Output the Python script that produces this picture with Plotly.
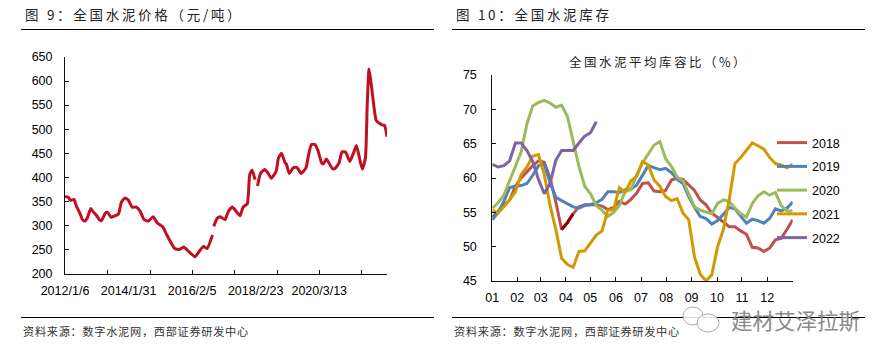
import plotly.graph_objects as go

W, H = 889, 358

# ---- Figure 9: national cement price (weekly index, yuan/ton); None marks a gap in the line
price_weeks = [0,6,9,15,19,25,29,33,37,43,47,53,57,61,67,71,77,83,89,94,100,106,112,119,125,132,139,147,154,163,169,175,183,191,198,206,217,225,231,237,246,247,248,254,259,267,272,279,285,292,297,304,308,312,317,319,321,326,333,339,344,352,356,361,367,369,374,381,387,394,402,406,411,417,422,428,431,436,446,450,457,462,468,475,481,486,492,496,501,504,507,510,517,519,525,531,533,537]
price_values = [360,358,352,354,340,325,312,309,315,335,328,320,312,310,325,327,317,320,323,348,357,352,338,338,330,312,309,318,305,297,282,268,252,250,255,246,235,248,256,252,280,None,298,315,318,312,328,338,330,320,338,345,405,415,395,None,382,408,416,408,398,412,440,450,430,428,408,420,420,408,420,445,468,468,455,430,428,438,418,418,430,453,452,433,450,466,435,417,440,550,625,600,530,518,512,508,508,484]
price_label_weeks = [0,106,212,318,424]
price_labels = ["2012/1/6","2014/1/31","2016/2/5","2018/2/23","2020/3/13"]
price_mark_weeks = [0,71,142,212,283,354,424,495]
price_y_ticks = [200,250,300,350,400,450,500,550,600,650]

# ---- Figure 10: cement inventory ratio (%), weekly through the year
inv_2018 = [54.3,55.2,56,56.8,58.8,60,60.9,61.8,62.5,62.3,60,56.5,52.5,53.5,54.8,55.8,56.1,56.1,56.1,55.9,55.4,55.7,56.6,56.2,56.9,57.8,59.2,59.3,58.1,58,58.2,59.7,60,59.8,59,58.2,56.8,56.1,54.9,54.3,53.6,52.9,52.9,52.3,51.8,49.9,49.8,49.3,49.8,51,51.2,52.5,53.9]
inv_2019 = [53.9,55,56.6,58.6,58.8,58.9,59.2,60.4,61.8,62,59.3,57.2,56.7,56.2,55.8,55.6,56,56.1,56.4,56.9,58,58,57.9,58.3,58.4,59,60.5,61.8,61.5,61.2,61.4,60.8,59.8,59.2,57.3,55.7,54.4,54.1,53.3,53.8,54.7,55.7,55.5,54.4,53.4,54,53.8,53.4,54.1,55.5,55.2,55.6,56.5]
inv_2020 = [55.6,56.4,57.5,59.5,61.7,63.8,67.9,70.5,71,71.3,70.9,70.3,70.6,69,65.3,61.7,58.8,57.7,56,55.3,54.4,55,56,58.1,58.3,60.5,62.2,63.5,64.8,65.3,62.8,61.7,60.1,59.6,57.7,55.8,55.3,55,54.8,56.3,56.8,56.6,55.6,54.8,54.3,56.3,57.4,58,57.5,57.9,56,55.2,55.2]
inv_2021 = [55.3,54.9,55.8,56.8,58,60.5,61.6,63.2,63.4,60.5,56,52.5,48.3,47.4,47,49.3,49.4,50.5,51.7,52.3,55.3,55.4,58.6,57.9,59.6,60.2,62.4,61.9,59.7,58.8,57.3,56.7,57,54.9,53.9,48.5,46,45,45.9,50,52.5,56.8,62.1,63,64,65.1,64.7,64.2,63,62.1,61.9,61.5,62]
inv_2022 = [62,61.6,61.8,62.5,65.1,65.1,64,62.4,59.8,57.7,59.2,62.6,64,64,64,65.1,66.1,66.6,68.2]
inv_dark_weeks = [12,13,14]
inv_dark_values = [52.5,53.5,54.8]
inv_series_names = ["2018","2019","2020","2021","2022"]
inv_colors = ["#C0504D","#4F81BD","#9BBB59","#D09A00","#8064A2"]
month_labels = ["01","02","03","04","05","06","07","08","09","10","11","12",""]
month_weeks = [0,4.33,8.37,12.75,16.96,21.4,25.75,30.1,34.5,38.9,43.2,47.6,52]
inv_y_ticks = [45,50,55,60,65,70,75]

SANS = "Liberation Sans, Arial, sans-serif"
CJK = "Noto Sans CJK SC"
HAIR = "\u200a"
THIN = "\u2009"

def spaced(s, sep=HAIR):
    return sep.join(s)

fig = go.Figure()
fig.add_trace(go.Scatter(x=price_weeks, y=price_values, mode="lines", xaxis="x", yaxis="y",
                         line=dict(color="#C00F23", width=3, shape="spline", smoothing=0.5),
                         connectgaps=False, showlegend=False))
for name, vals, col in zip(inv_series_names, [inv_2018, inv_2019, inv_2020, inv_2021, inv_2022], inv_colors):
    fig.add_trace(go.Scatter(x=list(range(len(vals))), y=vals, mode="lines", name=name, xaxis="x2", yaxis="y2",
                             line=dict(color=col, width=3), legendgroup=name))
fig.add_trace(go.Scatter(x=inv_dark_weeks, y=inv_dark_values, mode="lines", xaxis="x2", yaxis="y2",
                         line=dict(color="#8B0000", width=3), showlegend=False))

axis_common = dict(showgrid=False, zeroline=False, showline=True, linecolor="#111111", linewidth=1,
                   tickcolor="#111111", tickwidth=1, ticklen=4, ticks="inside", automargin=False,
                   tickfont=dict(family=SANS, size=12.5, color="#000000"))

fig.update_layout(
    width=W, height=H, autosize=False,
    margin=dict(l=0, r=0, t=0, b=0, autoexpand=False),
    paper_bgcolor="white", plot_bgcolor="white",
    font=dict(family=SANS),
    xaxis=dict(axis_common, domain=[65/W, 387/W], range=[0, 537], anchor="y",
               tickmode="array", tickvals=price_label_weeks, ticktext=price_labels, ticklen=0,
               ticklabelstandoff=5,
               minor=dict(tickmode="array", tickvals=price_mark_weeks, ticks="inside", ticklen=4,
                          tickcolor="#111111", tickwidth=1)),
    yaxis=dict(axis_common, domain=[1-273.5/H, 1-57/H], range=[200, 650], anchor="x",
               tickmode="array", tickvals=price_y_ticks, ticklabelstandoff=9),
    xaxis2=dict(axis_common, domain=[492.3/W, 792.7/W], range=[0, 52], anchor="y2",
                tickmode="array", tickvals=month_weeks, ticktext=month_labels, ticklabelstandoff=5),
    yaxis2=dict(axis_common, domain=[1-281/H, 1-75/H], range=[45, 75], anchor="x2",
                tickmode="array", tickvals=inv_y_ticks, ticklabelstandoff=12),
    legend=dict(x=772/W, y=1-128/H, xanchor="left", yanchor="top", bgcolor="rgba(0,0,0,0)",
                font=dict(family=SANS, size=12.5, color="#000000"), itemwidth=30,
                tracegroupgap=4.5, traceorder="grouped", itemclick=False),
)

def text(x, y, s, size, color="#000000", family=CJK, anchor="left"):
    fig.add_annotation(xref="paper", yref="paper", x=x/W, y=1-y/H, text=s, showarrow=False,
                       xanchor=anchor, yanchor="middle", align="left",
                       font=dict(family=family, size=size, color=color))

text(23, 14, spaced("图 9：全国水泥价格（元/吨）", THIN), 13.5, "#222222")
text(454, 14, spaced("图 10：全国水泥库存", THIN), 13.5, "#222222")
text(567, 62, spaced("全国水泥平均库容比（%）", THIN), 12.5, "#222222")
text(21, 331, spaced("资料来源：数字水泥网，西部证券研发中心"), 11.2, "#333333")
text(452, 331, spaced("资料来源：数字水泥网，西部证券研发中心"), 11.2, "#333333")
text(729, 319, "建材艾泽拉斯", 21.5, "#8A8A8A")

for x0, x1 in [(21, 434), (452, 865)]:
    for y in [29.5, 317.5]:
        fig.add_shape(type="line", xref="paper", yref="paper", x0=x0/W, x1=x1/W, y0=1-y/H, y1=1-y/H,
                      line=dict(color="#000000", width=1))

# WeChat-style watermark bubbles
for cx, cy, rx, ry in [(693, 316, 10, 9), (708, 323, 11, 9)]:
    fig.add_shape(type="circle", xref="paper", yref="paper", x0=(cx-rx)/W, x1=(cx+rx)/W,
                  y0=1-(cy+ry)/H, y1=1-(cy-ry)/H, line=dict(color="#AAAAAA", width=1),
                  fillcolor="rgba(255,255,255,0.85)")

fig.write_html("out.html", post_script="document.body.style.margin='0';",
               config={"displayModeBar": False})
